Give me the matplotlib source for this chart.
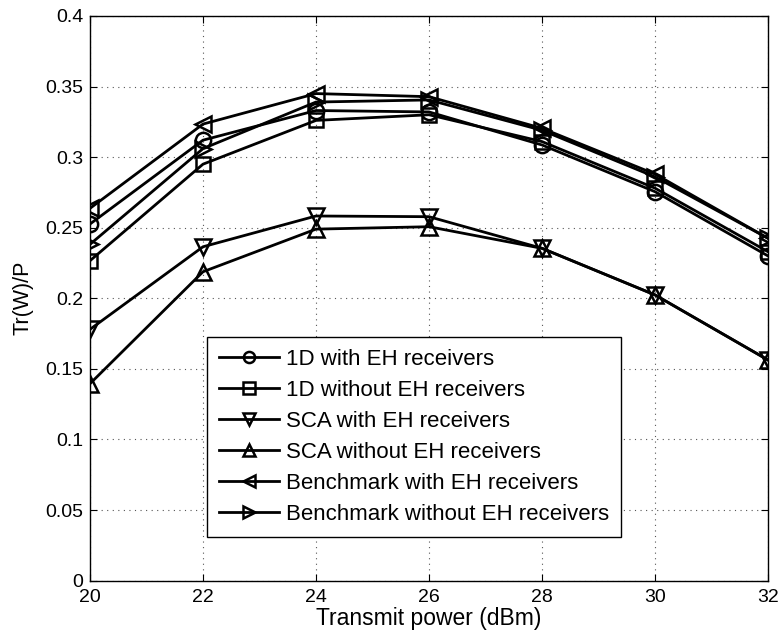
import matplotlib
matplotlib.use("Agg")
from matplotlib import pyplot as plt
from matplotlib.ticker import FixedLocator

plt.rcParams['font.family'] = ['Liberation Sans', 'DejaVu Sans']

power = [20, 22, 24, 26, 28, 30, 32]

d1_eh = [0.2526, 0.312, 0.333, 0.332, 0.3086, 0.2755, 0.230]
d1_noeh = [0.2266, 0.295, 0.326, 0.330, 0.311, 0.278, 0.233]
sca_eh = [0.178, 0.2365, 0.2583, 0.2578, 0.2354, 0.2024, 0.1563]
sca_noeh = [0.1395, 0.2188, 0.249, 0.2507, 0.2354, 0.2024, 0.1563]
bench_eh = [0.2637, 0.3234, 0.345, 0.3428, 0.3204, 0.288, 0.2425]
bench_noeh = [0.2382, 0.306, 0.339, 0.3405, 0.319, 0.286, 0.2425]

labels = ['1D with EH receivers', '1D without EH receivers',
          'SCA with EH receivers', 'SCA without EH receivers',
          'Benchmark with EH receivers', 'Benchmark without EH receivers']
series = [d1_eh, d1_noeh, sca_eh, sca_noeh, bench_eh, bench_noeh]
markers = ['o', 's', 'v', '^', '<', '>']
msizes = [11, 10, 12, 12, 12, 12]

fig = plt.figure(figsize=(7.81, 6.37), dpi=100)
ax = fig.add_axes([0.1152, 0.0884, 0.8682, 0.8866])

for ys, lab, m, ms in zip(series, labels, markers, msizes):
    ax.plot(power, ys, color='black', linewidth=2, marker=m, markersize=ms,
            markerfacecolor='none', markeredgewidth=1.8, label=lab)

ax.set_xlim(20, 32)
ax.set_ylim(0, 0.4)
ax.xaxis.set_major_locator(FixedLocator(power))
yt = [0, 0.05, 0.1, 0.15, 0.2, 0.25, 0.3, 0.35, 0.4]
ax.set_yticks(yt)
ax.set_yticklabels(['0', '0.05', '0.1', '0.15', '0.2', '0.25', '0.3', '0.35', '0.4'])
ax.tick_params(direction='in', labelsize=14, length=5, top=True, right=True)
ax.tick_params(axis='x', pad=6)
ax.tick_params(axis='y', pad=5)
ax.grid(True, linestyle=(0, (1, 4)), color='#555555', linewidth=0.8)
for s in ax.spines.values():
    s.set_linewidth(1)

ax.set_xlabel('Transmit power (dBm)', fontsize=16.5, labelpad=1)
ax.set_ylabel('Tr(W)/P', fontsize=15.5, labelpad=8)

leg = ax.legend(loc='lower left', bbox_to_anchor=(0.1726, 0.0774), fontsize=16,
                frameon=True, fancybox=False, edgecolor='black', framealpha=1,
                handlelength=2.7, labelspacing=0.45, borderpad=0.55,
                handletextpad=0.31, borderaxespad=0)
leg.get_frame().set_linewidth(1)
for h in leg.legend_handles:
    h.set_markersize(8)

fig.savefig('out.png', dpi=100)
